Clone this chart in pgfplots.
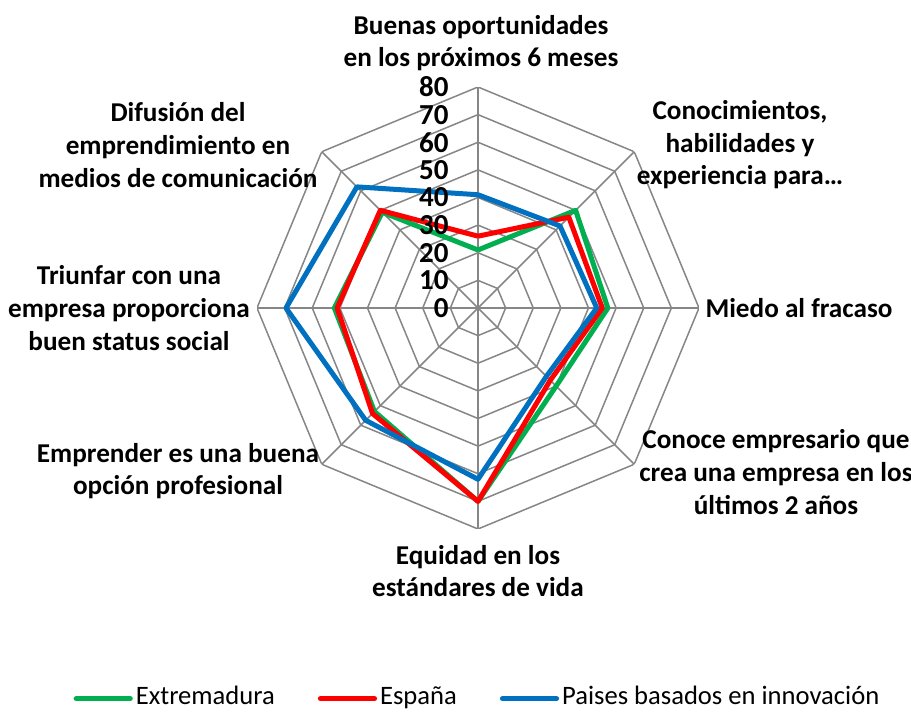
\documentclass[border=0pt]{standalone}
\usepackage{fontspec}
\setmainfont{Carlito}
\usepackage{pgfplots}
\pgfplotsset{compat=1.18}
\usepgfplotslibrary{polar}
\usetikzlibrary{calc}
\definecolor{cExt}{RGB}{0,176,80}
\definecolor{cEsp}{RGB}{255,0,0}
\definecolor{cInn}{RGB}{0,112,192}
\definecolor{cGrid}{RGB}{134,134,134}
\begin{document}
\begin{tikzpicture}
\begin{polaraxis}[
    scale only axis, width=221pt, height=221pt,
    ymin=0, ymax=80, hide axis,
    legend columns=3,
    legend style={draw=none, fill=none, at={(0.5,-0.384)}, anchor=center,
        font=\fontsize{13.3}{16}\selectfont,
        nodes={text height=1.55ex, text depth=0.35ex, inner xsep=1.5pt},
        /tikz/every even column/.append style={column sep=20pt}},
    legend image code/.code={\draw[#1, line width=2.6pt, line cap=round] (0pt,0pt) -- (27pt,0pt);},
    grid line/.style={cGrid, line width=0.75pt, forget plot},
    series/.style={line width=2.5pt, line join=round, mark=none},
]
% octagonal rings and spokes
\addplot[grid line] coordinates {(90,10) (45,10) (0,10) (-45,10) (-90,10) (-135,10) (-180,10) (-225,10) (-270,10)};
\addplot[grid line] coordinates {(90,20) (45,20) (0,20) (-45,20) (-90,20) (-135,20) (-180,20) (-225,20) (-270,20)};
\addplot[grid line] coordinates {(90,30) (45,30) (0,30) (-45,30) (-90,30) (-135,30) (-180,30) (-225,30) (-270,30)};
\addplot[grid line] coordinates {(90,40) (45,40) (0,40) (-45,40) (-90,40) (-135,40) (-180,40) (-225,40) (-270,40)};
\addplot[grid line] coordinates {(90,50) (45,50) (0,50) (-45,50) (-90,50) (-135,50) (-180,50) (-225,50) (-270,50)};
\addplot[grid line] coordinates {(90,60) (45,60) (0,60) (-45,60) (-90,60) (-135,60) (-180,60) (-225,60) (-270,60)};
\addplot[grid line] coordinates {(90,70) (45,70) (0,70) (-45,70) (-90,70) (-135,70) (-180,70) (-225,70) (-270,70)};
\addplot[grid line] coordinates {(90,80) (45,80) (0,80) (-45,80) (-90,80) (-135,80) (-180,80) (-225,80) (-270,80)};
\addplot[grid line] coordinates {(90,0) (90,80)};
\addplot[grid line] coordinates {(45,0) (45,80)};
\addplot[grid line] coordinates {(0,0) (0,80)};
\addplot[grid line] coordinates {(-45,0) (-45,80)};
\addplot[grid line] coordinates {(-90,0) (-90,80)};
\addplot[grid line] coordinates {(-135,0) (-135,80)};
\addplot[grid line] coordinates {(180,0) (180,80)};
\addplot[grid line] coordinates {(135,0) (135,80)};
% series: top, then clockwise
\addplot[series, cExt] coordinates {(90,21) (45,50) (0,47) (-45,40) (-90,70) (-135,53) (-180,52) (-225,49) (-270,21)};
\addlegendentry{Extremadura}
\addplot[series, cEsp] coordinates {(90,26) (45,46.5) (0,45) (-45,37) (-90,70) (-135,54) (-180,51) (-225,50) (-270,26)};
\addlegendentry{España}
\addplot[series, cInn] coordinates {(90,41) (45,42) (0,43) (-45,35) (-90,62) (-135,57.5) (-180,69.5) (-225,62) (-270,41)};
\addlegendentry{Paises basados en innovación}
\coordinate (C) at (axis cs:0,0);
\coordinate (T) at (axis cs:90,80);
\end{polaraxis}
\foreach \r in {0,10,...,80}{
    \node[anchor=east, font=\fontsize{14.5}{16}\selectfont\bfseries, inner sep=0pt]
        at ($(C)!\r/80!(T) + (-14.5pt,0)$) {\r};
}
\tikzset{lab/.style={align=center, inner sep=0pt, font=\fontsize{13.6}{16.3}\selectfont\bfseries}}
\node[lab] at ([shift={(1.5pt,132.5pt)}]C) {Buenas oportunidades\\en los próximos 6 meses};
\node[lab] at ([shift={(131pt,81.5pt)}]C) {Conocimientos,\\habilidades y\\experiencia para…};
\node[lab] at ([shift={(160.5pt,0pt)}]C) {Miedo al fracaso};
\node[lab] at ([shift={(149pt,-82pt)}]C) {Conoce empresario que\\crea una empresa en los\\últimos 2 años};
\node[lab] at ([shift={(0pt,-131.5pt)}]C) {Equidad en los\\estándares de vida};
\node[lab] at ([shift={(-150pt,-81.5pt)}]C) {Emprender es una buena\\opción profesional};
\node[lab] at ([shift={(-174.5pt,0pt)}]C) {Triunfar con una\\empresa proporciona\\buen status social};
\node[lab] at ([shift={(-150pt,81.5pt)}]C) {Difusión del\\emprendimiento en\\medios de comunicación};
\pgfresetboundingbox
\path ([shift={(-239pt,154pt)}]C) rectangle ([shift={(216.5pt,-203.5pt)}]C);
\end{tikzpicture}
\end{document}
